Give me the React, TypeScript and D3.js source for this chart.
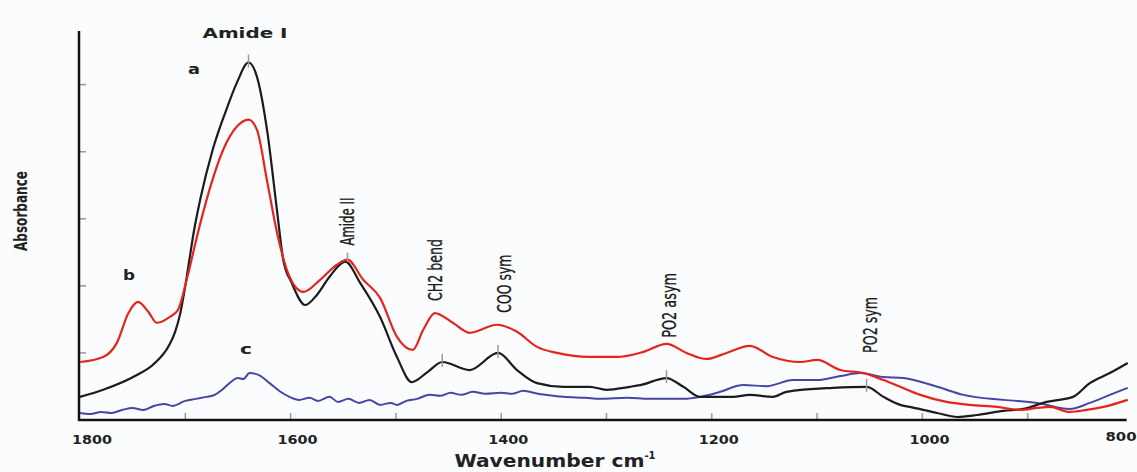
import React from "react";
import * as d3 from "d3";

const W = 1137;
const H = 472;

// Spectrum a (black)
const blackWn = [1800, 1778, 1746, 1731, 1715, 1710, 1705, 1700, 1696, 1692, 1686, 1674, 1660, 1651, 1640, 1632, 1622, 1613, 1607, 1599, 1586, 1575, 1563, 1548, 1534, 1515, 1499, 1485, 1470, 1456, 1430, 1403, 1385, 1366, 1341, 1316, 1300, 1278, 1268, 1243, 1227, 1211, 1180, 1164, 1142, 1129, 1085, 1053, 1037, 1021, 1012, 986, 967, 948, 923, 904, 882, 857, 841, 822, 805];
const blackAbs = [0.069, 0.09, 0.134, 0.164, 0.225, 0.26, 0.315, 0.4, 0.48, 0.56, 0.655, 0.806, 0.934, 1.006, 1.066, 1.024, 0.857, 0.627, 0.478, 0.409, 0.343, 0.373, 0.427, 0.472, 0.409, 0.307, 0.188, 0.113, 0.143, 0.173, 0.149, 0.2, 0.149, 0.11, 0.099, 0.099, 0.09, 0.099, 0.104, 0.125, 0.099, 0.069, 0.069, 0.075, 0.069, 0.084, 0.096, 0.099, 0.069, 0.045, 0.039, 0.021, 0.009, 0.015, 0.027, 0.033, 0.054, 0.069, 0.11, 0.14, 0.17];

// Spectrum b (red)
const redWn = [1800, 1778, 1765, 1754, 1745, 1735, 1727, 1715, 1707, 1698, 1689, 1677, 1664, 1651, 1640, 1632, 1622, 1612, 1601, 1588, 1572, 1556, 1546, 1531, 1515, 1499, 1484, 1474, 1463, 1446, 1430, 1404, 1385, 1366, 1347, 1316, 1290, 1265, 1243, 1224, 1205, 1186, 1164, 1142, 1116, 1100, 1078, 1056, 1037, 1021, 1002, 977, 955, 929, 907, 891, 879, 860, 844, 828, 805];
const redAbs = [0.173, 0.188, 0.23, 0.319, 0.352, 0.322, 0.29, 0.307, 0.328, 0.427, 0.546, 0.687, 0.806, 0.875, 0.896, 0.866, 0.707, 0.546, 0.427, 0.382, 0.418, 0.463, 0.478, 0.418, 0.364, 0.248, 0.209, 0.269, 0.319, 0.29, 0.26, 0.284, 0.263, 0.218, 0.2, 0.188, 0.188, 0.203, 0.227, 0.2, 0.182, 0.2, 0.221, 0.188, 0.173, 0.179, 0.149, 0.14, 0.119, 0.099, 0.075, 0.054, 0.045, 0.039, 0.03, 0.036, 0.039, 0.024, 0.03, 0.039, 0.06];

// Spectrum c (blue)
const blueWn = [1800, 1790, 1780, 1770, 1760, 1750, 1740, 1730, 1720, 1712, 1700, 1690, 1680, 1672, 1665, 1658, 1650, 1645, 1639, 1630, 1620, 1610, 1601, 1592, 1582, 1574, 1563, 1555, 1545, 1535, 1525, 1515, 1505, 1499, 1490, 1480, 1468, 1458, 1448, 1438, 1427, 1415, 1400, 1390, 1379, 1365, 1350, 1341, 1320, 1306, 1280, 1260, 1227, 1211, 1195, 1170, 1148, 1123, 1100, 1078, 1059, 1037, 1018, 986, 961, 923, 891, 860, 841, 822, 805];
const blueAbs = [0.021, 0.018, 0.024, 0.021, 0.03, 0.036, 0.03, 0.042, 0.048, 0.042, 0.057, 0.063, 0.069, 0.075, 0.09, 0.11, 0.125, 0.122, 0.14, 0.134, 0.11, 0.085, 0.069, 0.06, 0.066, 0.057, 0.069, 0.054, 0.063, 0.051, 0.06, 0.045, 0.051, 0.045, 0.057, 0.063, 0.075, 0.072, 0.081, 0.075, 0.084, 0.078, 0.081, 0.078, 0.087, 0.078, 0.072, 0.069, 0.066, 0.063, 0.066, 0.063, 0.063, 0.069, 0.081, 0.104, 0.101, 0.119, 0.119, 0.131, 0.14, 0.128, 0.125, 0.099, 0.075, 0.06, 0.051, 0.033, 0.051, 0.075, 0.096];

const xTicks = [1800, 1600, 1400, 1200, 1000, 800];
const xMinorTicks = [1700, 1600, 1500, 1400, 1300, 1200, 1100, 1000, 900];
const yMinorTicks = [0.2, 0.4, 0.6, 0.8, 1.0];

// Peak markers on spectrum a and b
const blackMarks = [1640, 1456, 1403, 1243, 1053];
const redMarks = [1546];

// Band labels (vertical)
const bandLabels = ["Amide II", "CH2 bend", "COO sym", "PO2 asym", "PO2 sym"];
const bandWn = [1546, 1463, 1397, 1241, 1050];
const bandAbs = [0.52, 0.355, 0.32, 0.245, 0.2];
const bandLen = [48, 62, 58, 65, 56];

export default function App() {
  const x = d3.scaleLinear().domain([1800, 800]).range([80, 1133]);
  const y = d3.scaleLinear().domain([0, 1.16]).range([420, 31]);

  const line = (wn: number[], ab: number[]) =>
    d3
      .line<number>()
      .x((_, i) => x(wn[i]))
      .y((d) => y(d))
      .curve(d3.curveMonotoneX)(ab) || "";

  const interp = (wn: number[], ab: number[], w: number) => {
    for (let i = 0; i < wn.length - 1; i++) {
      if (w <= wn[i] && w >= wn[i + 1]) {
        const t = (wn[i] - w) / (wn[i] - wn[i + 1]);
        return ab[i] + t * (ab[i + 1] - ab[i]);
      }
    }
    return ab[ab.length - 1];
  };

  const boldWide = "'DejaVu Sans', Verdana, sans-serif";
  const narrow = "'Liberation Sans Narrow', 'DejaVu Sans Condensed', 'Roboto', sans-serif";

  return (
    <svg
      width={W}
      height={H}
      style={{ position: "absolute", left: 0, top: 0, background: "#fbfcfd" }}
    >
      <rect x={0} y={0} width={W} height={H} fill="#fbfcfd" />

      {/* minor ticks */}
      {xMinorTicks.map((t) => (
        <line key={"xm" + t} x1={x(t)} x2={x(t)} y1={420} y2={413} stroke="#999" strokeWidth={1.5} />
      ))}
      {yMinorTicks.map((t) => (
        <line key={"ym" + t} x1={80} x2={86} y1={y(t)} y2={y(t)} stroke="#999" strokeWidth={1.5} />
      ))}

      {/* axes */}
      <line x1={79} x2={79} y1={y(1.16)} y2={421} stroke="#111" strokeWidth={2.5} />
      <line x1={78} x2={x(806)} y1={420} y2={420} stroke="#111" strokeWidth={2.5} />

      {/* spectra */}
      <path d={line(blueWn, blueAbs)} fill="none" stroke="#4646a6" strokeWidth={2} />
      <path d={line(blackWn, blackAbs)} fill="none" stroke="#1c1c1c" strokeWidth={2.2} />
      <path d={line(redWn, redAbs)} fill="none" stroke="#e5241d" strokeWidth={2.2} />

      {/* peak markers */}
      {blackMarks.map((w) => {
        const yy = y(interp(blackWn, blackAbs, w));
        return <line key={"bm" + w} x1={x(w)} x2={x(w)} y1={yy - 8} y2={yy + 5} stroke="#999" strokeWidth={1.5} />;
      })}
      {redMarks.map((w) => {
        const yy = y(interp(redWn, redAbs, w));
        return <line key={"rm" + w} x1={x(w)} x2={x(w)} y1={yy - 7} y2={yy + 2} stroke="#999" strokeWidth={1.5} />;
      })}

      {/* x tick labels */}
      {xTicks.map((t) => (
        <text
          key={"xl" + t}
          x={t === 800 ? 1121 : x(t) + (t === 1800 ? 12 : 7)}
          y={t === 800 ? 441 : 444}
          textAnchor="middle"
          fontFamily={boldWide}
          fontWeight="bold"
          fontSize={12}
          fill="#222"
          textLength={t === 800 ? 31 : 40}
          lengthAdjust="spacingAndGlyphs"
        >
          {t}
        </text>
      ))}

      {/* axis titles */}
      <text
        x={555}
        y={467}
        textAnchor="middle"
        fontFamily={boldWide}
        fontWeight="bold"
        fontSize={17}
        fill="#222"
      >
        <tspan textLength={190} lengthAdjust="spacingAndGlyphs">Wavenumber cm</tspan>
        <tspan fontSize={10} dy={-8}>-1</tspan>
      </text>
      <text
        transform="translate(27,211) rotate(-90)"
        textAnchor="middle"
        fontFamily={narrow}
        fontWeight="bold"
        fontSize={17}
        fill="#222"
        textLength={80}
        lengthAdjust="spacingAndGlyphs"
      >
        Absorbance
      </text>

      {/* peak labels */}
      <text x={245} y={38} textAnchor="middle" fontFamily={boldWide} fontWeight="bold" fontSize={14} fill="#222" textLength={85} lengthAdjust="spacingAndGlyphs">
        Amide I
      </text>
      <text x={194} y={74} textAnchor="middle" fontFamily={boldWide} fontWeight="bold" fontSize={14} fill="#222" textLength={12} lengthAdjust="spacingAndGlyphs">
        a
      </text>
      <text x={129} y={280} textAnchor="middle" fontFamily={boldWide} fontWeight="bold" fontSize={14} fill="#222" textLength={12} lengthAdjust="spacingAndGlyphs">
        b
      </text>
      <text x={246} y={354} textAnchor="middle" fontFamily={boldWide} fontWeight="bold" fontSize={14} fill="#222" textLength={12} lengthAdjust="spacingAndGlyphs">
        c
      </text>

      {bandLabels.map((lab, i) => (
        <text
          key={lab}
          transform={`translate(${x(bandWn[i]) + 7},${y(bandAbs[i])}) rotate(-90)`}
          fontFamily={narrow}
          fontSize={20}
          fill="#1a1a1a"
          stroke="#1a1a1a"
          strokeWidth={0.3}
          textLength={bandLen[i]}
          lengthAdjust="spacingAndGlyphs"
        >
          {lab}
        </text>
      ))}
    </svg>
  );
}
